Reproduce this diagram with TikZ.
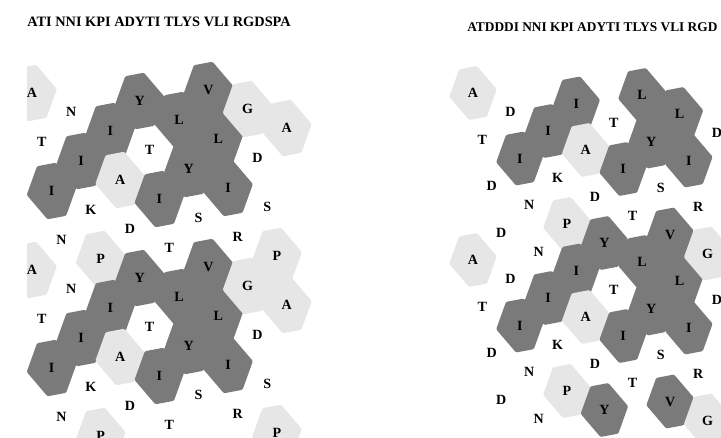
\documentclass[tikz,border=0pt]{standalone}
\usepackage{fontspec}
\setmainfont{Liberation Serif}

\definecolor{hexdark}{RGB}{122,122,122}
\definecolor{hexlight}{RGB}{230,230,230}

\tikzset{
  res/.style={font=\fontsize{10}{11}\selectfont\bfseries, inner sep=0pt},
  seqtitle/.style={font=\bfseries, inner sep=0pt, anchor=west},
  darkcell/.style={fill=hexdark, draw=hexdark, line width=3pt, line join=round},
  lightcell/.style={fill=hexlight, draw=hexlight, line width=3pt, line join=round},
  nocell/.style={},
  cell I/.style={darkcell}, cell L/.style={darkcell},
  cell V/.style={darkcell}, cell Y/.style={darkcell},
  cell A/.style={lightcell}, cell G/.style={lightcell}, cell P/.style={lightcell},
  cell T/.style={nocell}, cell N/.style={nocell}, cell K/.style={nocell},
  cell D/.style={nocell}, cell S/.style={nocell}, cell R/.style={nocell},
  hexcell/.pic={
    \path[pic actions] (22.5,-3.5) -- (3.3,-26) -- (-13,-22.9)
      -- (-22.5,3.5) -- (-3.3,26) -- (13,22.9) -- cycle;
  }
}

\begin{document}
\begin{tikzpicture}[x=0.025cm, y=-0.025cm]
  \clip (0,0) rectangle (721,437);

  % sequence lines
  \node[seqtitle, font=\fontsize{10.2}{11}\selectfont\bfseries] (seqA) at (27,22)
    {ATI NNI KPI ADYTI TLYS VLI RGDSPA};
  \node[seqtitle, font=\fontsize{9.5}{11}\selectfont\bfseries] (seqB) at (467,27)
    {ATDDDI NNI KPI ADYTI TLYS VLI RGD};

  % left net
  \begin{scope}
    \clip (27,40) rectangle (340,437);
    \foreach \aa [count=\n from 0] in {A,T,I,N,N,I,K,P,I,A,D,Y,T,I,T,L,Y,S,V,L,I,R,G,D,S,P,A} {
      \pgfmathsetmacro{\xx}{32+9.8*\n}
      \pgfmathsetmacro{\yy}{86+mod(7+49*\n,177)}
      \foreach \k in {0,1}
        \pic[cell \aa] at ({\xx},{\yy+177*\k}) {hexcell};
    }
    \foreach \aa [count=\n from 0] in {A,T,I,N,N,I,K,P,I,A,D,Y,T,I,T,L,Y,S,V,L,I,R,G,D,S,P,A} {
      \pgfmathsetmacro{\xx}{32+9.8*\n}
      \pgfmathsetmacro{\yy}{86+mod(7+49*\n,177)}
      \foreach \k in {0,1}
        \node[res] (l\n-\k) at ({\xx},{\yy+177*\k}) {\aa};
    }
  \end{scope}

  % right net
  \begin{scope}
    \foreach \aa [count=\n from 0] in {A,T,D,D,D,I,N,N,I,K,P,I,A,D,Y,T,I,T,L,Y,S,V,L,I,R,G,D} {
      \pgfmathsetmacro{\xx}{473+9.385*\n}
      \pgfmathsetmacro{\yy}{88+mod(5+46.5*\n,167)}
      \foreach \k in {0,1}
        \pic[cell \aa, scale=0.95] at ({\xx},{\yy+167*\k}) {hexcell};
    }
    \foreach \aa [count=\n from 0] in {A,T,D,D,D,I,N,N,I,K,P,I,A,D,Y,T,I,T,L,Y,S,V,L,I,R,G,D} {
      \pgfmathsetmacro{\xx}{473+9.385*\n}
      \pgfmathsetmacro{\yy}{88+mod(5+46.5*\n,167)}
      \foreach \k in {0,1}
        \node[res] (r\n-\k) at ({\xx},{\yy+167*\k}) {\aa};
    }
  \end{scope}
\end{tikzpicture}
\end{document}
